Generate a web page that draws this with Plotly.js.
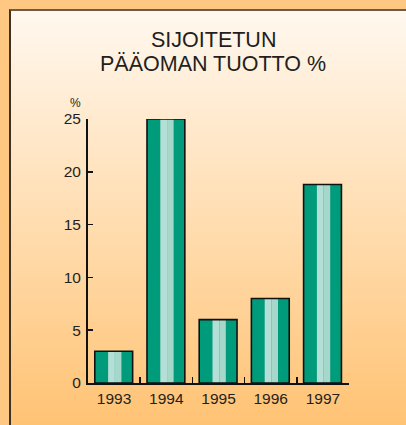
<!DOCTYPE html>
<html>
<head>
<meta charset="utf-8">
<script src="https://cdn.plot.ly/plotly-3.0.1.min.js"></script>
<style>
  html, body { margin: 0; padding: 0; }
  #wrap { position: relative; width: 406px; height: 425px; background: #FFC882; overflow: hidden; }
  #panel { position: absolute; left: 9px; top: 9px; right: 0; bottom: 0;
           border-top: 2px solid #6b5b47; border-left: 2px solid #3e3226;
           background: linear-gradient(#FFF8EF, #FFC374); }
  #chart { position: absolute; left: 0; top: 0; width: 406px; height: 425px; }
</style>
</head>
<body>
<div id="wrap">
  <div id="panel"></div>
  <div id="chart"></div>
</div>
<script>
// Data
const years = ["1993", "1994", "1995", "1996", "1997"];
const returnPct = [3.0, 25.0, 6.0, 8.0, 18.8];
const yTicks = [0, 5, 10, 15, 20, 25];
const titleLine1 = "SIJOITETUN";
const titleLine2 = "PÄÄOMAN TUOTTO %";
const unitLabel = "%";

const FONT = "Liberation Sans, Arial, Helvetica, sans-serif";
const TXT = "#231f20";

const traces = [
  { type: "bar", x: years, y: returnPct, offset: -0.37, width: 0.725,
    marker: { color: "#009B7B", line: { width: 0 } }, hoverinfo: "skip" },
  { type: "bar", x: years, y: returnPct, offset: -0.115, width: 0.13,
    marker: { color: "#B4DFD6", line: { width: 0 } }, hoverinfo: "skip" },
  { type: "bar", x: years, y: returnPct, offset: 0.015, width: 0.125,
    marker: { color: "#A6D7CB", line: { width: 0 } }, hoverinfo: "skip" },
  { type: "bar", x: years, y: returnPct, offset: -0.37, width: 0.725,
    marker: { color: "rgba(0,0,0,0)", line: { width: 1.6, color: "#111" } }, hoverinfo: "skip" }
];

const plotL = 88, plotR = 57;
const plotW = 406 - plotL - plotR;

const layout = {
  width: 406, height: 425,
  margin: { l: plotL, r: plotR, t: 119, b: 42 },
  paper_bgcolor: "rgba(0,0,0,0)",
  plot_bgcolor: "rgba(0,0,0,0)",
  barmode: "overlay",
  showlegend: false,
  font: { family: FONT, color: TXT },
  xaxis: {
    type: "category", range: [-0.5, 4.5],
    showline: true, linecolor: "#111", linewidth: 2,
    ticks: "inside", tickson: "boundaries", ticklen: 6, tickwidth: 1.5, tickcolor: "#111",
    showgrid: false, zeroline: false,
    tickfont: { size: 15.5, family: FONT, color: TXT },
    ticklabelstandoff: 0
  },
  yaxis: {
    range: [0, 25], tickvals: yTicks, ticktext: yTicks.map(String),
    showline: true, linecolor: "#111", linewidth: 2,
    ticks: "inside", ticklen: 5, tickwidth: 1.5, tickcolor: "#111",
    showgrid: false, zeroline: false,
    tickfont: { size: 15.5, family: FONT, color: TXT },
    ticklabelstandoff: 2
  },
  annotations: [
    { text: titleLine1, xref: "paper", yref: "paper", x: (213 - plotL) / plotW, y: 1.30,
      xanchor: "center", yanchor: "middle", showarrow: false,
      font: { size: 21.5, family: FONT, color: TXT } },
    { text: titleLine2, xref: "paper", yref: "paper", x: (213 - plotL) / plotW, y: 1.207,
      xanchor: "center", yanchor: "middle", showarrow: false,
      font: { size: 21.5, family: FONT, color: TXT } },
    { text: unitLabel, xref: "paper", yref: "paper", x: -0.047, y: 1.06,
      xanchor: "center", yanchor: "middle", showarrow: false,
      font: { size: 12, family: FONT, color: TXT } }
  ]
};

Plotly.newPlot("chart", traces, layout, { staticPlot: true, displayModeBar: false });
</script>
</body>
</html>
